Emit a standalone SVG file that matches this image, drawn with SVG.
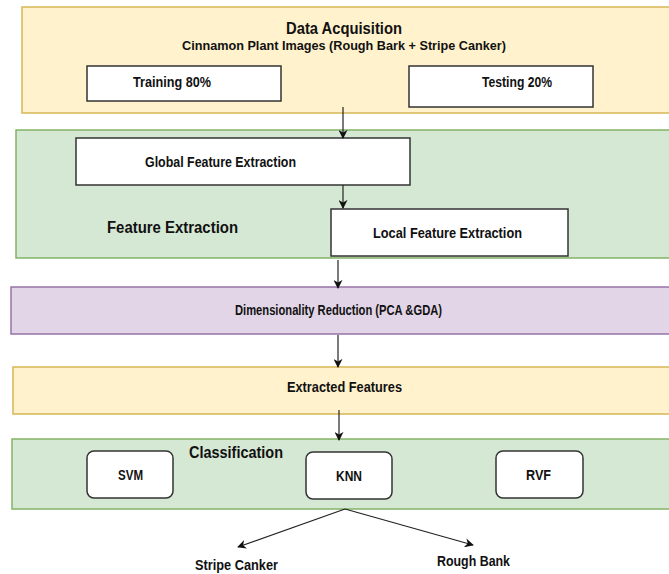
<svg xmlns="http://www.w3.org/2000/svg" width="669" height="574" viewBox="0 0 669 574">
<style>
text{font-family:"Liberation Sans",Arial,sans-serif;font-weight:bold;fill:#111;}
.yel{fill:#fff2cc;stroke:#d6b656;stroke-width:1.5;}
.grn{fill:#d5e8d4;stroke:#82b366;stroke-width:1.5;}
.pur{fill:#e1d5e7;stroke:#9673a6;stroke-width:1.5;}
.box{fill:#fff;stroke:#333;stroke-width:1.5;}
.t13{font-size:14px;}
.t15{font-size:16px;}
.t12{font-size:13px;}
.con{stroke:#222;stroke-width:1.2;fill:none;marker-end:url(#ah);}
</style>
<defs>
<marker id="ah" viewBox="0 0 10 10" refX="9" refY="5" markerWidth="9" markerHeight="9" markerUnits="userSpaceOnUse" orient="auto">
<path d="M0,0 L10,5 L0,10 L3,5 Z" fill="#111"/>
</marker>
</defs>
<rect width="669" height="574" fill="#fff"/>

<g id="data-acquisition">
<rect class="yel" x="22" y="7" width="660" height="106"/>
<text class="t15" x="344" y="34" text-anchor="middle" textLength="116" lengthAdjust="spacingAndGlyphs">Data Acquisition</text>
<text class="t12" x="344" y="50" text-anchor="middle" textLength="324" lengthAdjust="spacingAndGlyphs">Cinnamon Plant Images (Rough Bark + Stripe Canker)</text>
</g>
<g id="training">
<rect class="box" x="87" y="66" width="194" height="35"/>
<text class="t13" x="133" y="87" textLength="78" lengthAdjust="spacingAndGlyphs">Training 80%</text>
</g>
<g id="testing">
<rect class="box" x="409" y="66" width="184" height="41"/>
<text class="t13" x="482" y="87" textLength="70" lengthAdjust="spacingAndGlyphs">Testing 20%</text>
</g>

<g id="feature-extraction">
<rect class="grn" x="16" y="130" width="666" height="128"/>
<text class="t15" x="107" y="233" textLength="131" lengthAdjust="spacingAndGlyphs">Feature Extraction</text>
</g>
<g id="global-feature">
<rect class="box" x="76" y="138" width="334" height="47"/>
<text class="t13" x="145" y="167" textLength="151" lengthAdjust="spacingAndGlyphs">Global Feature Extraction</text>
</g>
<g id="local-feature">
<rect class="box" x="331" y="209" width="237" height="47"/>
<text class="t13" x="373" y="238" textLength="149" lengthAdjust="spacingAndGlyphs">Local Feature Extraction</text>
</g>

<g id="dimensionality">
<rect class="pur" x="11" y="287" width="671" height="47"/>
<text class="t13" x="235" y="315" textLength="207" lengthAdjust="spacingAndGlyphs">Dimensionality Reduction (PCA &amp;GDA)</text>
</g>

<g id="extracted">
<rect class="yel" x="13" y="367" width="669" height="47"/>
<text class="t13" x="287" y="392" textLength="115" lengthAdjust="spacingAndGlyphs">Extracted Features</text>
</g>

<g id="classification">
<rect class="grn" x="12" y="439" width="670" height="70"/>
<text class="t15" x="189" y="458" textLength="94" lengthAdjust="spacingAndGlyphs">Classification</text>
</g>
<g id="svm">
<rect class="box" x="87" y="451" width="86" height="47" rx="7"/>
<text class="t13" x="130.5" y="480" text-anchor="middle" textLength="25" lengthAdjust="spacingAndGlyphs">SVM</text>
</g>
<g id="knn">
<rect class="box" x="306" y="452" width="86" height="47" rx="7"/>
<text class="t13" x="349" y="481" text-anchor="middle" textLength="26" lengthAdjust="spacingAndGlyphs">KNN</text>
</g>
<g id="rvf">
<rect class="box" x="496" y="451" width="87" height="47" rx="7"/>
<text class="t13" x="538.5" y="480" text-anchor="middle" textLength="25" lengthAdjust="spacingAndGlyphs">RVF</text>
</g>

<g id="stripe-canker">
<text class="t13" x="195" y="570" textLength="83" lengthAdjust="spacingAndGlyphs">Stripe Canker</text>
</g>
<g id="rough-bank">
<text class="t13" x="437" y="566" textLength="73" lengthAdjust="spacingAndGlyphs">Rough Bank</text>
</g>

<g id="connectors">
<path class="con" d="M343,107 L343,138"/>
<path class="con" d="M343,185 L343,208"/>
<path class="con" d="M338,260 L338,288"/>
<path class="con" d="M338,335 L338,367"/>
<path class="con" d="M339,410 L339,440"/>
<path class="con" d="M345,509 L238,547"/>
<path class="con" d="M345,509 L473,545"/>
</g>
</svg>
